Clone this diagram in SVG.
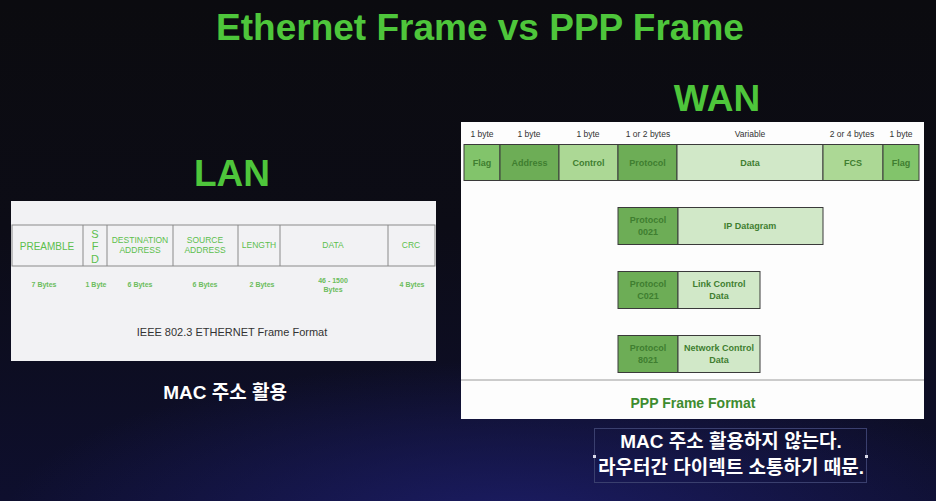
<svg xmlns="http://www.w3.org/2000/svg" width="936" height="501" viewBox="0 0 936 501">
  <defs>
    <linearGradient id="bg" x1="0" y1="0" x2="0" y2="1">
      <stop offset="0" stop-color="#0b0b0f"/>
      <stop offset="0.45" stop-color="#0c0c16"/>
      <stop offset="1" stop-color="#0e0f2e"/>
    </linearGradient>
    <radialGradient id="glow" cx="0.55" cy="1.05" r="0.55" gradientTransform="translate(0.55 1.05) scale(1 0.6) translate(-0.55 -1.05)">
      <stop offset="0" stop-color="#1e1f6e" stop-opacity="0.85"/>
      <stop offset="1" stop-color="#1e1f6e" stop-opacity="0"/>
    </radialGradient>
    <style>
      .hd { font-family: "Liberation Sans", Arial, sans-serif; font-weight: bold; fill: #4ec63b; text-anchor: middle; }
      .ko { font-family: "Liberation Sans", "Noto Sans CJK KR", sans-serif; font-weight: bold; fill: #ffffff; text-anchor: middle; }
      .cell { stroke: #8a8a8a; stroke-width: 1; fill: none; }
      .lf { font-family: "Liberation Sans", Arial, sans-serif; fill: #5cbf4c; text-anchor: middle; }
      .lb { font-family: "Liberation Sans", Arial, sans-serif; font-weight: bold; fill: #6cbd5c; text-anchor: middle; font-size: 7px; }
      .pc { stroke: #3a3a3a; stroke-width: 1; }
      .pt { font-family: "Liberation Sans", Arial, sans-serif; font-weight: bold; fill: #3f7e30; text-anchor: middle; font-size: 9px; }
      .sz { font-family: "Liberation Sans", Arial, sans-serif; fill: #333333; text-anchor: middle; font-size: 8.5px; }
      .dk { fill: #6dad56; }
      .md { fill: #82c46b; }
      .lt { fill: #acd895; }
      .vl { fill: #d1e8c8; }
    </style>
  </defs>

  <!-- backdrop -->
  <rect width="936" height="501" fill="url(#bg)"/>
  <rect width="936" height="501" fill="url(#glow)"/>

  <!-- headings -->
  <text class="hd" x="480" y="40" font-size="37">Ethernet Frame vs PPP Frame</text>
  <text class="hd" x="717" y="111" font-size="37">WAN</text>
  <text class="hd" x="232" y="186" font-size="37">LAN</text>

  <!-- IEEE 802.3 Ethernet frame -->
  <g id="lan-frame">
    <rect x="11" y="201" width="425" height="160" fill="#f2f2f4"/>
    <g class="cell">
      <rect x="12" y="225" width="423" height="41"/>
      <line x1="83" y1="225" x2="83" y2="266"/>
      <line x1="107" y1="225" x2="107" y2="266"/>
      <line x1="173" y1="225" x2="173" y2="266"/>
      <line x1="238" y1="225" x2="238" y2="266"/>
      <line x1="280" y1="225" x2="280" y2="266"/>
      <line x1="388" y1="225" x2="388" y2="266"/>
    </g>
    <text class="lf" x="47" y="250" font-size="10">PREAMBLE</text>
    <text class="lf" x="95" y="238" font-size="11">S</text>
    <text class="lf" x="95" y="250" font-size="11">F</text>
    <text class="lf" x="95" y="263" font-size="11">D</text>
    <text class="lf" x="140" y="243" font-size="8.5">DESTINATION</text>
    <text class="lf" x="140" y="253" font-size="8.5">ADDRESS</text>
    <text class="lf" x="205" y="243" font-size="8.5">SOURCE</text>
    <text class="lf" x="205" y="253" font-size="8.5">ADDRESS</text>
    <text class="lf" x="259" y="248" font-size="8.5">LENGTH</text>
    <text class="lf" x="333" y="248" font-size="8.5">DATA</text>
    <text class="lf" x="411" y="248" font-size="8.5">CRC</text>

    <text class="lb" x="44" y="287">7 Bytes</text>
    <text class="lb" x="96" y="287">1 Byte</text>
    <text class="lb" x="140" y="287">6 Bytes</text>
    <text class="lb" x="205" y="287">6 Bytes</text>
    <text class="lb" x="262" y="287">2 Bytes</text>
    <text class="lb" x="333" y="283">46 - 1500</text>
    <text class="lb" x="333" y="292">Bytes</text>
    <text class="lb" x="412" y="287">4 Bytes</text>

    <text x="232" y="336" font-family="Liberation Sans, Arial, sans-serif" font-size="11" fill="#333" text-anchor="middle">IEEE 802.3 ETHERNET Frame Format</text>
  </g>

  <text id="lan-note" class="ko" x="225" y="399" font-size="19">MAC 주소 활용</text>

  <!-- PPP frame -->
  <g id="wan-frame">
    <rect x="461" y="122" width="463" height="297" fill="#fdfdfd"/>
    <line x1="461" y1="380" x2="924" y2="380" stroke="#9a9a9a" stroke-width="1"/>

    <text class="sz" x="482" y="137">1 byte</text>
    <text class="sz" x="529" y="137">1 byte</text>
    <text class="sz" x="588" y="137">1 byte</text>
    <text class="sz" x="648" y="137">1 or 2 bytes</text>
    <text class="sz" x="750" y="137">Variable</text>
    <text class="sz" x="852" y="137">2 or 4 bytes</text>
    <text class="sz" x="901" y="137">1 byte</text>

    <g id="ppp-fields">
      <rect class="pc md" x="464" y="144.5" width="36" height="36"/>
      <rect class="pc dk" x="500" y="144.5" width="59" height="36"/>
      <rect class="pc lt" x="559" y="144.5" width="59" height="36"/>
      <rect class="pc dk" x="618" y="144.5" width="59" height="36"/>
      <rect class="pc vl" x="677" y="144.5" width="146" height="36"/>
      <rect class="pc lt" x="823" y="144.5" width="60" height="36"/>
      <rect class="pc md" x="883" y="144.5" width="36" height="36"/>
      <text class="pt" x="482" y="165.5">Flag</text>
      <text class="pt" x="529.5" y="165.5">Address</text>
      <text class="pt" x="588.5" y="165.5">Control</text>
      <text class="pt" x="647.5" y="165.5">Protocol</text>
      <text class="pt" x="750" y="165.5">Data</text>
      <text class="pt" x="853" y="165.5">FCS</text>
      <text class="pt" x="901" y="165.5">Flag</text>
    </g>

    <g id="proto-0021">
      <rect class="pc dk" x="618" y="207.5" width="60" height="37"/>
      <rect class="pc vl" x="678" y="207.5" width="145" height="37"/>
      <text class="pt" x="648" y="223">Protocol</text>
      <text class="pt" x="648" y="235">0021</text>
      <text class="pt" x="750" y="229">IP Datagram</text>
    </g>

    <g id="proto-c021">
      <rect class="pc dk" x="618" y="271.5" width="60" height="37"/>
      <rect class="pc vl" x="678" y="271.5" width="82" height="37"/>
      <text class="pt" x="648" y="287">Protocol</text>
      <text class="pt" x="648" y="299">C021</text>
      <text class="pt" x="719" y="287">Link Control</text>
      <text class="pt" x="719" y="299">Data</text>
    </g>

    <g id="proto-8021">
      <rect class="pc dk" x="618" y="335.5" width="60" height="37"/>
      <rect class="pc vl" x="678" y="335.5" width="82" height="37"/>
      <text class="pt" x="648" y="351">Protocol</text>
      <text class="pt" x="648" y="363">8021</text>
      <text class="pt" x="719" y="351">Network Control</text>
      <text class="pt" x="719" y="363">Data</text>
    </g>

    <text x="693" y="408" font-family="Liberation Sans, Arial, sans-serif" font-weight="bold" font-size="14" fill="#3e8c2f" text-anchor="middle">PPP Frame Format</text>
  </g>

  <!-- caption with selection frame -->
  <g id="wan-note">
    <rect x="594.5" y="428.5" width="272" height="54" fill="none" stroke="#3a3f6e" stroke-width="1"/>
    <rect x="593" y="455" width="3" height="3" fill="#d8d8e8"/>
    <rect x="865" y="455" width="3" height="3" fill="#d8d8e8"/>
    <text class="ko" x="731" y="448" font-size="19">MAC 주소 활용하지 않는다.</text>
    <text class="ko" x="731" y="474" font-size="19">라우터간 다이렉트 소통하기 때문.</text>
  </g>
</svg>
